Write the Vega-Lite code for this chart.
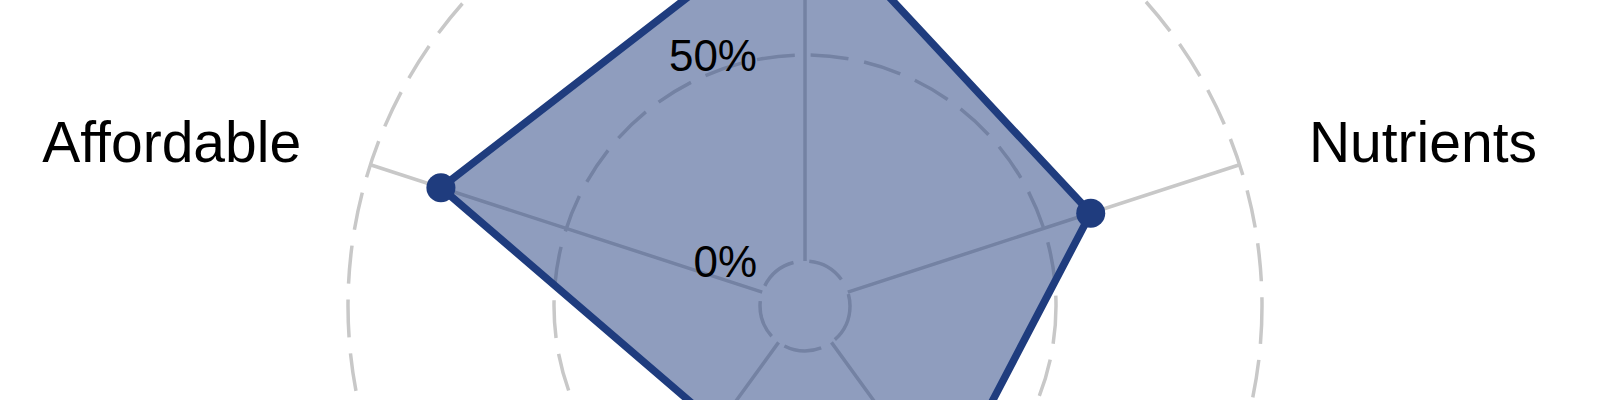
{
  "$schema": "https://vega.github.io/schema/vega-lite/v6.json",
  "width": 1600,
  "height": 400,
  "autosize": {"type": "fit", "contains": "padding"},
  "padding": 0,
  "background": "white",
  "config": {"view": {"stroke": null}},
  "datasets": {
    "axes": [
      {"idx": 0, "axis": "", "value": 86},
      {"idx": 1, "axis": "Nutrients", "value": 62},
      {"idx": 2, "axis": "", "value": 46},
      {"idx": 3, "axis": "", "value": 25},
      {"idx": 4, "axis": "Affordable", "value": 82}
    ],
    "grid": [
      {"level": 0, "label": "0%"},
      {"level": 50, "label": "50%"},
      {"level": 100, "label": "100%"}
    ]
  },
  "layer": [
    {
      "data": {"name": "grid"},
      "transform": [{"calculate": "datum.level + 10.92", "as": "r"}],
      "mark": {"type": "point", "shape": "circle", "filled": false, "stroke": "#c8c8c8", "strokeWidth": 3.5, "strokeDash": [38, 16], "opacity": 1, "clip": true},
      "encoding": {
        "x": {"datum": 0, "type": "quantitative", "scale": {"domain": [-195.39, 192.96], "nice": false, "zero": false}, "axis": null},
        "y": {"datum": 0, "type": "quantitative", "scale": {"domain": [-22.82, 74.27], "nice": false, "zero": false}, "axis": null},
        "size": {"field": "r", "type": "quantitative", "scale": {"type": "pow", "exponent": 2, "domain": [0, 110.92], "range": [0, 835396]}, "legend": null}
      }
    },
    {
      "data": {"name": "axes"},
      "transform": [
        {"calculate": "(90 - 72*datum.idx)*PI/180", "as": "ang"},
        {"calculate": "10.92*cos(datum.ang)", "as": "sx0"},
        {"calculate": "10.92*sin(datum.ang)", "as": "sy0"},
        {"calculate": "110.92*cos(datum.ang)", "as": "sx1"},
        {"calculate": "110.92*sin(datum.ang)", "as": "sy1"}
      ],
      "mark": {"type": "rule", "stroke": "#c8c8c8", "strokeWidth": 3.5, "clip": true},
      "encoding": {
        "x": {"field": "sx0", "type": "quantitative", "scale": {"domain": [-195.39, 192.96], "nice": false, "zero": false}, "axis": null},
        "y": {"field": "sy0", "type": "quantitative", "scale": {"domain": [-22.82, 74.27], "nice": false, "zero": false}, "axis": null},
        "x2": {"field": "sx1"},
        "y2": {"field": "sy1"}
      }
    },
    {
      "data": {"name": "axes"},
      "transform": [
        {"calculate": "(90 - 72*datum.idx)*PI/180", "as": "ang"},
        {"calculate": "datum.value + 10.92", "as": "r"},
        {"calculate": "datum.r*cos(datum.ang)", "as": "px"},
        {"calculate": "datum.r*sin(datum.ang)", "as": "py"}
      ],
      "mark": {"type": "line", "interpolate": "linear-closed", "stroke": "#1f3c7e", "strokeWidth": 7.5, "fill": "#1f3c7e", "fillOpacity": 0.5, "strokeJoin": "round", "clip": true},
      "encoding": {
        "x": {"field": "px", "type": "quantitative", "scale": {"domain": [-195.39, 192.96], "nice": false, "zero": false}, "axis": null},
        "y": {"field": "py", "type": "quantitative", "scale": {"domain": [-22.82, 74.27], "nice": false, "zero": false}, "axis": null},
        "order": {"field": "idx", "type": "quantitative"}
      }
    },
    {
      "data": {"name": "axes"},
      "transform": [
        {"calculate": "(90 - 72*datum.idx)*PI/180", "as": "ang"},
        {"calculate": "datum.value + 10.92", "as": "r"},
        {"calculate": "datum.r*cos(datum.ang)", "as": "px"},
        {"calculate": "datum.r*sin(datum.ang)", "as": "py"}
      ],
      "mark": {"type": "point", "shape": "circle", "filled": true, "color": "#1f3c7e", "opacity": 1, "size": 841, "clip": true},
      "encoding": {
        "x": {"field": "px", "type": "quantitative", "scale": {"domain": [-195.39, 192.96], "nice": false, "zero": false}, "axis": null},
        "y": {"field": "py", "type": "quantitative", "scale": {"domain": [-22.82, 74.27], "nice": false, "zero": false}, "axis": null}
      }
    },
    {
      "data": {"name": "grid"},
      "transform": [
        {"filter": "datum.level < 100"},
        {"calculate": "datum.level + 10.92", "as": "r"}
      ],
      "mark": {"type": "text", "align": "right", "baseline": "middle", "dx": -48, "dy": 3, "font": "Liberation Sans", "fontSize": 44, "color": "#000000", "clip": true},
      "encoding": {
        "x": {"datum": 0, "type": "quantitative", "scale": {"domain": [-195.39, 192.96], "nice": false, "zero": false}, "axis": null},
        "y": {"field": "r", "type": "quantitative", "scale": {"domain": [-22.82, 74.27], "nice": false, "zero": false}, "axis": null},
        "text": {"field": "label"}
      }
    },
    {
      "data": {"name": "axes"},
      "transform": [
        {"filter": "datum.idx == 1"},
        {"calculate": "(90 - 72*datum.idx)*PI/180", "as": "ang"},
        {"calculate": "128.6*cos(datum.ang)", "as": "lx"},
        {"calculate": "128.6*sin(datum.ang)", "as": "ly"}
      ],
      "mark": {"type": "text", "align": "left", "baseline": "middle", "dy": 3, "font": "Liberation Sans", "fontSize": 57, "color": "#000000", "clip": true},
      "encoding": {
        "x": {"field": "lx", "type": "quantitative", "scale": {"domain": [-195.39, 192.96], "nice": false, "zero": false}, "axis": null},
        "y": {"field": "ly", "type": "quantitative", "scale": {"domain": [-22.82, 74.27], "nice": false, "zero": false}, "axis": null},
        "text": {"field": "axis"}
      }
    },
    {
      "data": {"name": "axes"},
      "transform": [
        {"filter": "datum.idx == 4"},
        {"calculate": "(90 - 72*datum.idx)*PI/180", "as": "ang"},
        {"calculate": "128.6*cos(datum.ang)", "as": "lx"},
        {"calculate": "128.6*sin(datum.ang)", "as": "ly"}
      ],
      "mark": {"type": "text", "align": "right", "baseline": "middle", "dy": 3, "font": "Liberation Sans", "fontSize": 57, "color": "#000000", "clip": true},
      "encoding": {
        "x": {"field": "lx", "type": "quantitative", "scale": {"domain": [-195.39, 192.96], "nice": false, "zero": false}, "axis": null},
        "y": {"field": "ly", "type": "quantitative", "scale": {"domain": [-22.82, 74.27], "nice": false, "zero": false}, "axis": null},
        "text": {"field": "axis"}
      }
    }
  ]
}
